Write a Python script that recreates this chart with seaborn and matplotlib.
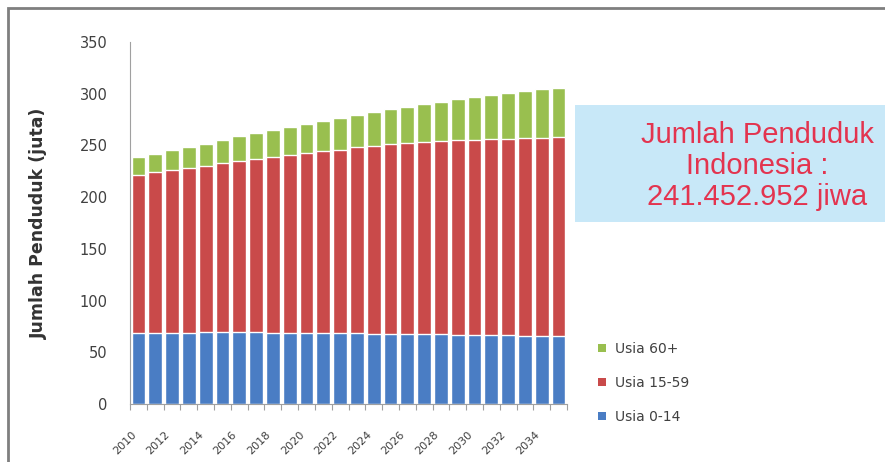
import numpy as np
import matplotlib
matplotlib.use("Agg")
import matplotlib.pyplot as plt
import matplotlib.transforms as mtransforms
from matplotlib.patches import Patch, Rectangle
import seaborn as sns

# Proyeksi penduduk Indonesia 2010-2035 (juta jiwa)
tahun = [str(t) for t in range(2010, 2036)]
usia_0_14 = [68.6, 68.8, 69.0, 69.1, 69.2, 69.3, 69.3, 69.2, 69.1, 69.0, 68.8, 68.6, 68.4,
             68.2, 68.0, 67.8, 67.6, 67.4, 67.2, 67.0, 66.8, 66.6, 66.4, 66.2, 66.0, 65.8]
usia_15_59 = [152.4, 155.2, 157.0, 158.9, 160.8, 163.7, 165.7, 167.8, 169.9, 172.0, 174.2, 175.9, 177.6,
              179.8, 181.5, 183.2, 184.4, 185.6, 186.8, 188.0, 188.7, 189.4, 190.1, 190.8, 191.5, 192.2]
usia_60 = [17.5, 17.8, 19.1, 20.4, 21.6, 22.5, 23.7, 24.9, 26.0, 27.1, 28.1, 29.5, 30.9,
           31.7, 33.0, 33.8, 35.6, 37.0, 38.4, 39.6, 40.9, 42.8, 44.4, 45.6, 46.6, 47.6]
label_seri = ["Usia 60+", "Usia 15-59", "Usia 0-14"]
label_tahun = [t if i % 2 == 0 else "" for i, t in enumerate(tahun)]

warna = {"Usia 0-14": "#4A7DC4", "Usia 15-59": "#C94A4A", "Usia 60+": "#99BF4F"}

sns.set_style("white")
plt.rcParams["font.family"] = ["DejaVu Sans"]

W, H = 885, 462
fig = plt.figure(figsize=(W / 100, H / 100), dpi=100)
ax = fig.add_axes([130 / W, 1 - 404 / H, 437 / W, 362 / H])

# bar bertumpuk: gambar total dulu, lalu yang lebih kecil di atasnya
a = np.array(usia_0_14)
b = a + np.array(usia_15_59)
c = b + np.array(usia_60)
sns.barplot(x=tahun, y=c, color=warna["Usia 60+"], saturation=1, width=0.82, ax=ax)
sns.barplot(x=tahun, y=b, color=warna["Usia 15-59"], saturation=1, width=0.82, ax=ax)
sns.barplot(x=tahun, y=a, color=warna["Usia 0-14"], saturation=1, width=0.82, ax=ax)

ax.set_xlim(-0.5, len(tahun) - 0.5)
ax.set_ylim(0, 350)
ax.set_yticks(range(0, 351, 50))
ax.tick_params(axis="y", length=4, width=0.8, color="#A0A0A0", labelsize=10.5, labelcolor="#404040", pad=12)
ax.set_xticks(range(len(tahun)))
ax.set_xticklabels(label_tahun)
ax.set_xticks(np.arange(-0.5, len(tahun)), minor=True)
ax.tick_params(axis="x", which="major", length=0, labelsize=8, labelcolor="#404040", pad=21)
ax.tick_params(axis="x", which="minor", length=4, width=0.8, color="#A0A0A0", bottom=True)
geser = mtransforms.ScaledTranslation(-4 / 100, 0, fig.dpi_scale_trans)
for lbl in ax.get_xticklabels():
    lbl.set_rotation(45)
    lbl.set_ha("right")
    lbl.set_va("center")
    lbl.set_rotation_mode("anchor")
    lbl.set_transform(lbl.get_transform() + geser)
ax.set_xlabel("")
ax.set_ylabel("Jumlah Penduduk (juta)", fontsize=12.5, fontweight="bold", color="#333333")
ax.yaxis.set_label_coords(-0.188, 0.5)

for s in ["top", "right"]:
    ax.spines[s].set_visible(False)
for s in ["left", "bottom"]:
    ax.spines[s].set_color("#A0A0A0")
    ax.spines[s].set_linewidth(0.8)

handles = [Patch(facecolor=warna[k], edgecolor="none") for k in label_seri]
fig.legend(handles, label_seri, loc="center left", bbox_to_anchor=(598 / W, 1 - 383 / H),
           frameon=False, fontsize=10, labelcolor="#404040", borderpad=0, borderaxespad=0,
           handlelength=0.55, handleheight=0.55, handletextpad=0.7, labelspacing=1.45)

# kotak keterangan
fig.patches.append(Rectangle((575 / W, 1 - 222 / H), 320 / W, 117 / H, transform=fig.transFigure,
                             facecolor="#C8E8F8", edgecolor="none", zorder=0))
fig.text(757 / W, 1 - 166 / H, "Jumlah Penduduk\nIndonesia :\n241.452.952 jiwa",
         ha="center", va="center", fontsize=21, linespacing=1.12, color="#E3344F",
         family=["Liberation Sans", "DejaVu Sans"])

# bingkai (terpotong di kanan dan bawah)
fig.patches.append(Rectangle((8 / W, -10 / H), 900 / W, 464 / H, transform=fig.transFigure,
                             facecolor="none", edgecolor="#7F7F7F", linewidth=2, zorder=5))

fig.savefig("out.png", dpi=100)
